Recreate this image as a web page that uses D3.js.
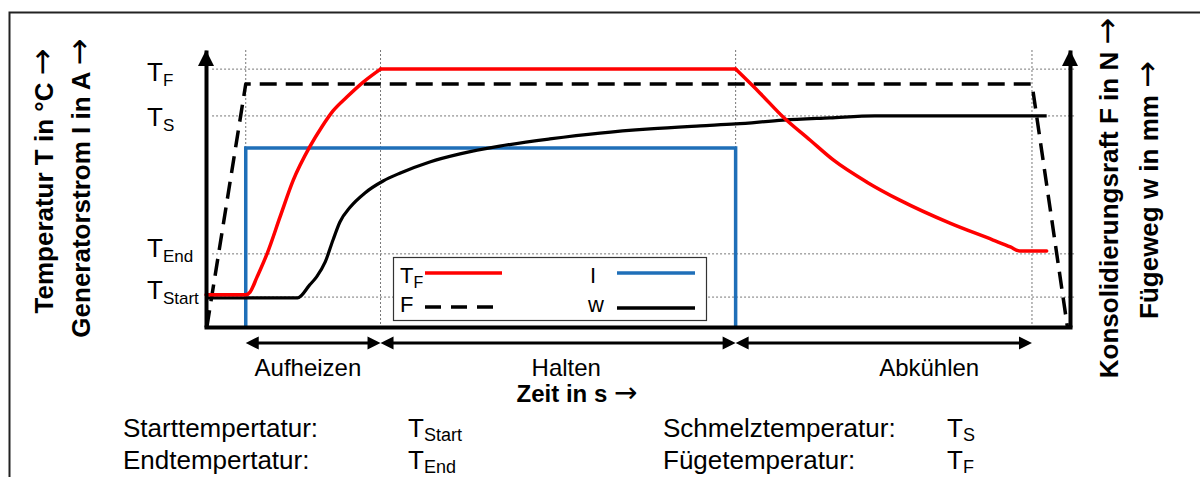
<!DOCTYPE html>
<html>
<head>
<meta charset="utf-8">
<script src="https://cdn.jsdelivr.net/npm/d3@7"></script>
<style>
  body { margin: 0; background: #fff; }
  svg { display: block; font-family: "Liberation Sans", Arial, sans-serif; }
</style>
</head>
<body>
<svg id="chart" width="1200" height="477"></svg>
<script>
// schematic units: time 0..100, signal 0..100
const phaseNames = ["Aufheizen", "Halten", "Abkühlen"];
const phaseBounds = [4.6, 20.2, 61.3, 95.6];

const levelSubs = ["F", "S", "End", "Start"];
const levelValues = [93.1, 76.2, 26.4, 10.8];

// temperature T, split per phase so the corners stay sharp
const tempHeat = [[0, 11.6], [4.6, 11.6], [5.1, 12.6], [5.9, 18], [7.1, 26.7], [8.6, 40], [10.1, 53],
  [12, 65], [13.4, 72.2], [14.7, 78], [16.3, 83], [18.2, 88.4], [20.2, 93.1]];
const tempHold = [[20.2, 93.1], [61.3, 93.1]];
const tempCool = [[61.3, 93.1], [64.1, 84.5], [66.8, 75.8], [69.9, 67.5], [72.6, 60.3], [76.5, 52.3],
  [80.3, 45.8], [86.1, 37.5], [91.1, 31.4], [93.1, 28.9], [94.2, 27.4], [97.3, 27.4]];

const currentI = [[4.6, 0], [4.6, 64.6], [61.3, 64.6], [61.3, 0]];
const forceF = [[0.1, 0], [4.6, 87.7], [95.6, 87.7], [99.7, 0]];
const pathW = [[0, 10.5], [10.6, 10.5], [12, 15.2], [12.8, 18.1], [13.8, 23.5], [14.7, 31.4], [15.5, 37.9],
  [16.7, 43.3], [18.4, 48.4], [20.5, 52.7], [22.5, 55.6], [25.9, 59.6], [29.4, 62.5], [34, 65.3],
  [39.8, 67.9], [45.6, 70], [51.4, 71.5], [57.2, 72.6], [61.3, 73.3], [66.8, 74.7], [72.2, 75.5],
  [77.4, 76.2], [97.3, 76.2]];

const legendLabels = ["T", "F", "I", "w"];
const legendSubs = ["F", "", "", ""];

const descLabels = ["Starttempertatur:", "Endtempertatur:", "Schmelztemperatur:", "Fügetemperatur:"];
const descSubs = ["Start", "End", "S", "F"];

const RED = "#ff0000", BLUE = "#1f6fb8";

const svg = d3.select("#chart");
const x = d3.scaleLinear().domain([0, 100]).range([206, 1070]);
const y = d3.scaleLinear().domain([0, 100]).range([327, 50]);

// outer frame (continues past the picture edge)
svg.append("rect")
  .attr("x", 9.5).attr("y", 12.5).attr("width", 1220).attr("height", 500)
  .attr("fill", "none").attr("stroke", "#222").attr("stroke-width", 2);

// dotted guides
svg.append("g").selectAll("line").data(levelValues).join("line")
  .attr("x1", x(0.7)).attr("x2", x(100.5))
  .attr("y1", d => y(d)).attr("y2", d => y(d))
  .attr("stroke", "#777").attr("stroke-width", 1).attr("stroke-dasharray", "2,2");
svg.append("g").selectAll("line").data(phaseBounds).join("line")
  .attr("x1", d => x(d)).attr("x2", d => x(d))
  .attr("y1", y(100)).attr("y2", y(0))
  .attr("stroke", "#777").attr("stroke-width", 1).attr("stroke-dasharray", "2,2");

const lin = d3.line().x(d => x(d[0])).y(d => y(d[1]));
const smooth = d3.line().x(d => x(d[0])).y(d => y(d[1])).curve(d3.curveMonotoneX);

svg.append("path").attr("d", lin(currentI))
  .attr("fill", "none").attr("stroke", BLUE).attr("stroke-width", 3.5);

svg.append("path").attr("d", lin(forceF))
  .attr("fill", "none").attr("stroke", "#000").attr("stroke-width", 3.5)
  .attr("stroke-dasharray", "17,9").attr("stroke-linejoin", "round");

svg.append("path").attr("d", smooth(pathW))
  .attr("fill", "none").attr("stroke", "#000").attr("stroke-width", 3.2);

svg.append("g").selectAll("path").data([tempHeat, tempHold, tempCool]).join("path")
  .attr("d", d => smooth(d))
  .attr("fill", "none").attr("stroke", RED).attr("stroke-width", 3.5)
  .attr("stroke-linecap", "round").attr("stroke-linejoin", "round");

// axes
const labelDy = [11, 10, 3, 1];
const axL = svg.append("g").attr("transform", `translate(${x(0)},0)`)
  .call(d3.axisLeft(y).tickValues(levelValues).tickSize(0).tickFormat(""));
axL.select(".domain").attr("stroke", "#000").attr("stroke-width", 4);
axL.selectAll(".tick text").each(function (d, i) {
  const t = d3.select(this)
    .attr("x", 147 - x(0)).attr("dy", labelDy[i])
    .attr("text-anchor", "start").attr("fill", "#000")
    .attr("font-family", "Liberation Sans, Arial, sans-serif").attr("font-size", 26);
  t.append("tspan").text("T");
  t.append("tspan").attr("font-size", 17).attr("dy", 5).text(levelSubs[i]);
});

const axR = svg.append("g").attr("transform", `translate(${x(100)},0)`)
  .call(d3.axisRight(y).tickValues([]).tickSizeOuter(0));
axR.select(".domain").attr("stroke", "#000").attr("stroke-width", 4);

const axB = svg.append("g").attr("transform", `translate(0,${y(0)})`)
  .call(d3.axisBottom(x).tickValues([]).tickSizeOuter(0));
axB.select(".domain").attr("stroke", "#000").attr("stroke-width", 4).attr("stroke-linecap", "square");

svg.append("g").selectAll("path").data([0, 100]).join("path")
  .attr("d", d => `M${x(d) - 8},${y(100) + 16}L${x(d)},${y(100)}L${x(d) + 8},${y(100) + 16}Z`)
  .attr("fill", "#000");

// phase arrows
const arrowY = 343;
const phase = svg.append("g").selectAll("g").data(phaseNames).join("g");
phase.append("line")
  .attr("x1", (d, i) => x(phaseBounds[i]) + 10).attr("x2", (d, i) => x(phaseBounds[i + 1]) - 10)
  .attr("y1", arrowY).attr("y2", arrowY)
  .attr("stroke", "#000").attr("stroke-width", 3);
phase.append("path")
  .attr("d", (d, i) => {
    const a = x(phaseBounds[i]), b = x(phaseBounds[i + 1]);
    return `M${a},${arrowY}L${a + 13},${arrowY - 6.5}L${a + 13},${arrowY + 6.5}Z` +
           `M${b},${arrowY}L${b - 13},${arrowY - 6.5}L${b - 13},${arrowY + 6.5}Z`;
  })
  .attr("fill", "#000");
const phaseLabelX = [11.8, 41.7, 83.7];
phase.append("text")
  .attr("x", (d, i) => x(phaseLabelX[i])).attr("y", 376)
  .attr("text-anchor", "middle").attr("font-size", 24)
  .text(d => d);

const zeit = svg.append("text").attr("x", 577).attr("y", 402)
  .attr("text-anchor", "middle").attr("font-size", 24).attr("font-weight", "bold");
zeit.append("tspan").text("Zeit in s ");
zeit.append("tspan").attr("font-family", "DejaVu Sans").attr("font-weight", "normal").attr("font-size", 28).text("→");

// vertical axis titles
const titles = [
  { text: "Temperatur T in °C", x: 53, y: 181 },
  { text: "Generatorstrom I in A", x: 90, y: 188 },
  { text: "Konsolidierungsraft F in N", x: 1118, y: 198 },
  { text: "Fügeweg w in mm", x: 1158, y: 190 }
];
const tt = svg.append("g").selectAll("text").data(titles).join("text")
  .attr("transform", d => `translate(${d.x},${d.y}) rotate(-90)`)
  .attr("text-anchor", "middle").attr("font-size", 26).attr("font-weight", "bold");
tt.append("tspan").text(d => d.text + " ");
tt.append("tspan").attr("font-family", "DejaVu Sans").attr("font-weight", "normal")
  .attr("font-size", 32).text("→");

// legend box
const lg = svg.append("g");
lg.append("rect").attr("x", 393.5).attr("y", 257.5).attr("width", 313).attr("height", 63)
  .attr("fill", "#fff").attr("stroke", "#333").attr("stroke-width", 1.2);
const lgText = [[400, 283], [400, 312], [590, 283], [588, 312]];
const lgLine = [[425, 502, 273], [425, 493, 307], [617, 695, 273], [617, 695, 308]];
const lgStroke = [RED, "#000", BLUE, "#000"];
const lgDash = [null, "16,10", null, null];
legendLabels.forEach((lab, i) => {
  const t = lg.append("text").attr("x", lgText[i][0]).attr("y", lgText[i][1]).attr("font-size", 22);
  t.append("tspan").text(lab);
  if (legendSubs[i]) t.append("tspan").attr("font-size", 16).attr("dy", 5).text(legendSubs[i]);
  lg.append("line")
    .attr("x1", lgLine[i][0]).attr("x2", lgLine[i][1])
    .attr("y1", lgLine[i][2]).attr("y2", lgLine[i][2])
    .attr("stroke", lgStroke[i]).attr("stroke-width", 3.5)
    .attr("stroke-dasharray", lgDash[i]);
});

// explanation lines under the chart
const descPos = [[123, 408, 437], [123, 408, 469], [663, 947, 437], [663, 947, 469]];
descLabels.forEach((lab, i) => {
  const p = descPos[i];
  svg.append("text").attr("x", p[0]).attr("y", p[2]).attr("font-size", 26).text(lab);
  const t = svg.append("text").attr("x", p[1]).attr("y", p[2]).attr("font-size", 26);
  t.append("tspan").text("T");
  t.append("tspan").attr("font-size", 18).attr("dy", 4).text(descSubs[i]);
});
</script>
</body>
</html>
